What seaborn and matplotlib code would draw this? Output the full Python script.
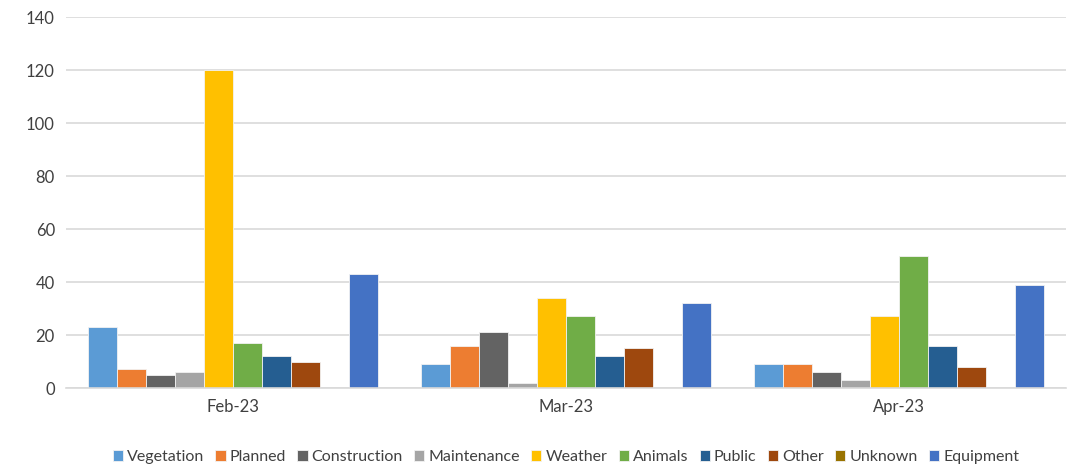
import matplotlib
matplotlib.use("Agg")
import matplotlib.pyplot as plt
import matplotlib.font_manager as fm
import seaborn as sns
import pandas as pd

# ---- data ----
months = ["Feb-23", "Mar-23", "Apr-23"]
causes = ["Vegetation", "Planned", "Construction", "Maintenance", "Weather",
          "Animals", "Public", "Other", "Unknown", "Equipment"]
vegetation = [23, 9, 9]
planned = [7, 16, 9]
construction = [5, 21, 6]
maintenance = [6, 2, 3]
weather = [120, 34, 27]
animals = [17, 27, 50]
public = [12, 12, 16]
other = [10, 15, 8]
unknown = [0, 0, 0]
equipment = [43, 32, 39]

colors = ["#5B9BD5", "#ED7D31", "#636363", "#A5A5A5", "#FFC000",
          "#70AD47", "#255E91", "#9E480E", "#997300", "#4472C4"]

series = [vegetation, planned, construction, maintenance, weather,
          animals, public, other, unknown, equipment]
rows = []
for cause, vals in zip(causes, series):
    for m, v in zip(months, vals):
        rows.append({"month": m, "cause": cause, "count": v})
df = pd.DataFrame(rows)

sns.set_theme(style="white")
available = {f.name for f in fm.fontManager.ttflist}
font = "Lato" if "Lato" in available else "DejaVu Sans"
plt.rcParams["font.family"] = [font, "DejaVu Sans"]

fig = plt.figure(figsize=(10.82, 4.69), dpi=100)
ax = fig.add_axes([0.061, 0.1727, 0.924, 0.791])

sns.barplot(data=df, x="month", y="count", hue="cause", order=months,
            hue_order=causes, palette=colors, width=0.87, saturation=1,
            errorbar=None, linewidth=0.6, edgecolor="#F2F2F2", ax=ax)

ax.set_ylim(0, 140)
ax.set_xlim(-0.5, 2.5)
ax.set_yticks(range(0, 141, 20))
ax.set_xlabel("")
ax.set_ylabel("")
ax.yaxis.grid(True, color="#D9D9D9", linewidth=1.2)
ax.set_axisbelow(True)
for s in ["top", "right", "left"]:
    ax.spines[s].set_visible(False)
ax.spines["bottom"].set_color("#D9D9D9")
ax.spines["bottom"].set_linewidth(1.2)

ax.tick_params(axis="both", which="major", length=0, labelsize=12,
               labelcolor="#404040", pad=8)
ax.set_xticks([-0.5, 0.5, 1.5, 2.5], minor=True)
ax.tick_params(axis="x", which="minor", length=6, color="#D9D9D9", width=1.2)

ax.legend_.remove()
handles, labels = ax.get_legend_handles_labels()
fig.legend(handles, labels, loc="center", bbox_to_anchor=(0.523, 0.026),
           ncol=10, frameon=False, fontsize=11.5, handlelength=0.65,
           handleheight=0.65, handletextpad=0.25, columnspacing=0.7,
           labelcolor="#404040")

fig.savefig("out.png", dpi=100)
